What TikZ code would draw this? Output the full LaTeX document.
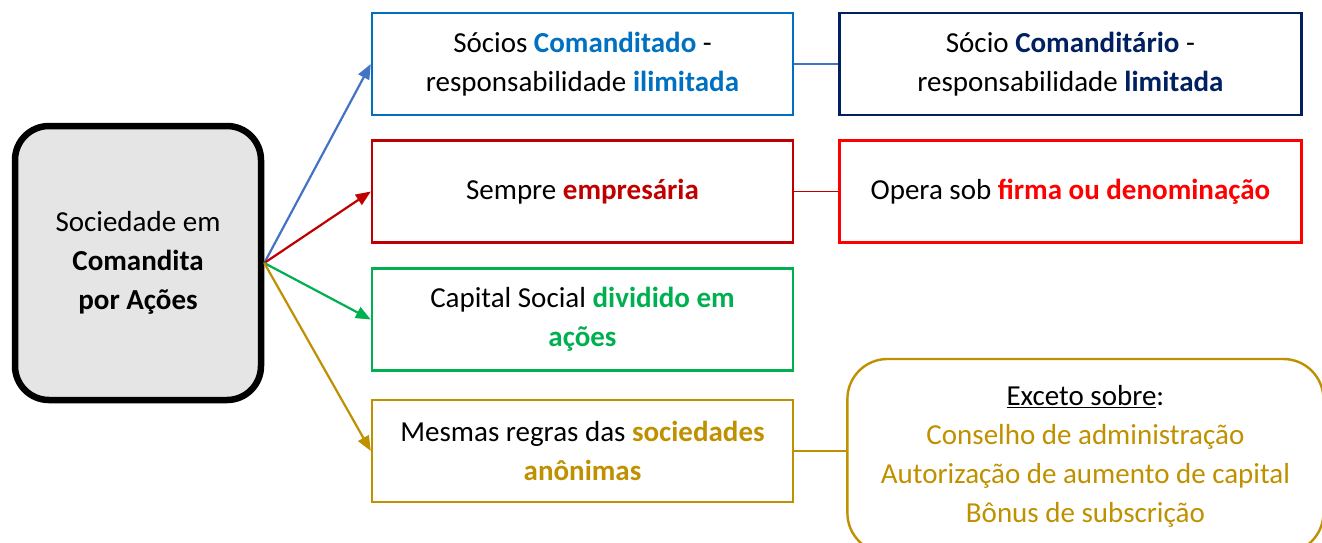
\documentclass[tikz,border=0pt]{standalone}
\usepackage{fontspec}
\setmainfont{Carlito}
\usetikzlibrary{positioning}
\usetikzlibrary{arrows.meta}
\definecolor{cmdblue}{HTML}{0070C0}
\definecolor{arrblue}{HTML}{4472C4}
\definecolor{cmdnavy}{HTML}{002060}
\definecolor{darkred}{HTML}{C00000}
\definecolor{brightred}{HTML}{FF0000}
\definecolor{cmdgreen}{HTML}{00B050}
\definecolor{cmdgold}{HTML}{BF9000}
\tikzset {
  node distance={44pt},
  txt/.style = {font=\fontsize{29}{39}\selectfont, align=center, inner sep=0pt},
  % grey rounded box on the left
  main/.style = {txt, draw, rounded corners=34pt, line width=6.5pt, fill=black!10,
    minimum width=246pt, minimum height=274pt},
  % plain boxes
  info/.style = {txt, draw, line width=2.4pt, minimum width=421pt, minimum height=102pt},
  % arrows from the left box
  link/.style = {-{Triangle[length=15pt,width=12pt]}, line width=2.2pt},
  % thin lines between boxes
  tie/.style = {line width=1.3pt},
}
\newcommand{\hb}[2]{\textcolor{#1}{\textbf{#2}}}

\begin{document}
\begin{tikzpicture}[x=1pt, y=-1pt]
  \useasboundingbox (0,0) rectangle (1322,542);
  \clip (0,0) rectangle (1322,542);

  \node[main] (soc) at (138,263) {Sociedade em\\ \textbf{Comandita}\\ \textbf{por Ações}};

  \node[info, draw=cmdblue] (comdo) at (582.5,64)
    {Sócios \hb{cmdblue}{Comanditado} -\\ responsabilidade \hb{cmdblue}{ilimitada}};
  \node[info, draw=darkred] (emp) at (582.5,191.5) {Sempre \hb{darkred}{empresária}};
  \node[info, draw=cmdgreen] (cap) at (582.5,319.5)
    {Capital Social \hb{cmdgreen}{dividido em}\\ \hb{cmdgreen}{ações}};
  \node[info, draw=cmdgold] (sa) at (582.5,451)
    {Mesmas regras das \hb{cmdgold}{sociedades}\\ \hb{cmdgold}{anônimas}};

  \node[info, draw=cmdnavy, minimum width=462pt] (comtario) [right=of comdo]
    {Sócio \hb{cmdnavy}{Comanditário} -\\ responsabilidade \hb{cmdnavy}{limitada}};
  \node[info, draw=brightred, minimum width=462pt] (firma) [right=of emp]
    {Opera sob \hb{brightred}{firma ou denominação}};
  \node[txt, draw=cmdgold, line width=2.4pt, rounded corners=40pt,
    minimum width=476pt, minimum height=194pt, yshift=-5pt] (exc) [right=52pt of sa]
    {\underline{Exceto sobre}:\\ \color{cmdgold}Conselho de administração\\
     \color{cmdgold}Autorização de aumento de capital\\ \color{cmdgold}Bônus de subscrição};

  \draw[link, arrblue] (soc.east) -- (comdo.west);
  \draw[link, darkred] (soc.east) -- (emp.west);
  \draw[link, cmdgreen] (soc.east) -- (cap.west);
  \draw[link, cmdgold] (soc.east) -- (sa.west);

  \draw[tie, arrblue] (comdo) -- (comtario);
  \draw[tie, darkred] (emp) -- (firma);
  \draw[tie, cmdgold] (sa.east) -- (exc.west |- sa.east);
\end{tikzpicture}
\end{document}
